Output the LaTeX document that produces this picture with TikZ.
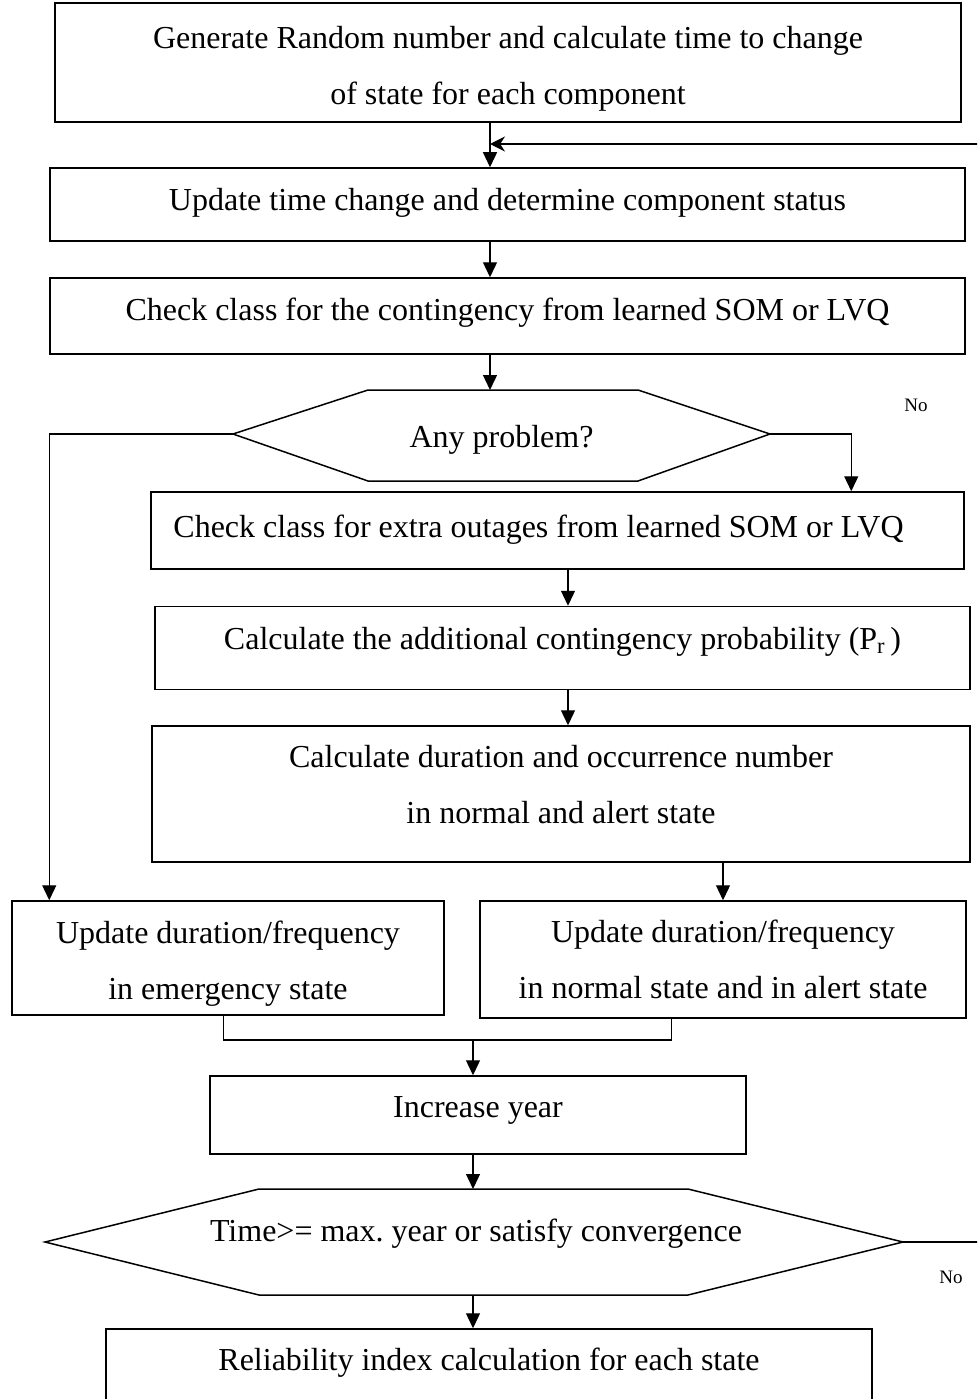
\documentclass[tikz,border=0pt]{standalone}
\usepackage{fontspec}
\setmainfont{Liberation Serif}
\usetikzlibrary{arrows.meta,calc}
\frenchspacing
\begin{document}
\begin{tikzpicture}[x=1pt,y=-1pt,
  box/.style={draw, line width=1.5pt, inner sep=0pt, align=center,
    font=\fontsize{32}{56}\selectfont},
  up/.style={text height=22pt, text depth={1pt+2*#1}},
  hextext/.style={inner sep=0pt, font=\fontsize{32}{56}\selectfont},
  hexline/.style={line width=1.5pt},
  arr/.style={line width=1.3pt, -{Triangle[length=15pt,width=14pt]}},
  fbarr/.style={line width=1.3pt, -{Stealth[length=15pt,width=15pt]}},
  ln/.style={line width=1.3pt},
  nolab/.style={inner sep=0pt, font=\fontsize{19}{22}\selectfont}]
\clip (0,0) rectangle (977,1399);
\useasboundingbox (0,0) rectangle (977,1399);

% column coordinates
\coordinate (cA) at (490,0);
\coordinate (cB) at (568,0);
\coordinate (cC) at (473,0);

% boxes
\node[box, minimum width=906pt, minimum height=119pt] (b1) at (508,62.5)
  {\begin{tabular}{@{}c@{}}Generate Random number and calculate time to change\\ of state for each component\\[-6pt]\end{tabular}};
\node[box, up=4.5pt, minimum width=915pt, minimum height=73pt] (b2) at (507.5,204.5)
  {Update time change and determine component status};
\node[box, up=6pt, minimum width=915pt, minimum height=76pt] (b3) at (507.5,316)
  {Check class for the contingency from learned SOM or LVQ};

% hexagon 1
\coordinate (h1w) at (233,434);
\coordinate (h1e) at (770,434);
\draw[hexline] (h1w) -- (368,390) -- (638,390) -- (h1e) -- (638,481) -- (368,481) -- cycle;
\node[hextext] (h1) at (501.5,440) {Any problem?};
\coordinate (h1n) at (490,390);

\node[box, up=4pt, minimum width=813pt, minimum height=77pt] (b4) at (557.5,530.5)
  {Check class for extra outages from learned SOM or LVQ\hspace*{38pt}};
\node[box, up=9pt, minimum width=815pt, minimum height=83pt] (b5) at (562.5,648)
  {Calculate the additional contingency probability (P\textsubscript{r}\,)};
\node[box, minimum width=818pt, minimum height=136pt] (b6) at (561,794)
  {\begin{tabular}{@{}c@{}}Calculate duration and occurrence number\\ in normal and alert state\\[20pt]\end{tabular}};
\node[box, minimum width=432pt, minimum height=114pt] (b7) at (228,958)
  {\begin{tabular}{@{}c@{}}Update duration/frequency\\ in emergency state\\[-4pt]\end{tabular}};
\node[box, minimum width=486pt, minimum height=117pt] (b8) at (723,959.5)
  {\begin{tabular}{@{}c@{}}Update duration/frequency\\ in normal state and in alert state\end{tabular}};
\node[box, up=8pt, minimum width=536pt, minimum height=78pt] (b9) at (478,1115)
  {Increase year};

% hexagon 2
\coordinate (h2w) at (45,1242);
\coordinate (h2e) at (903,1242);
\draw[hexline] (h2w) -- (259,1189) -- (688,1189) -- (h2e) -- (688,1295) -- (259,1295) -- cycle;
\node[hextext] (h2) at (476,1234) {Time>= max. year or satisfy convergence};
\coordinate (h2n) at (473,1189);
\coordinate (h2s) at (473,1295);

\node[box, up=19.5pt, minimum width=766pt, minimum height=101pt] (b10) at (489,1379.5)
  {Reliability index calculation for each state};

% labels
\node[nolab] (no1) at (916,405) {No};
\node[nolab] (no2) at (951,1277) {No};

% connectors
\draw[arr] (b1.south -| cA) -- (b2.north -| cA);
\draw[arr] (b2.south -| cA) -- (b3.north -| cA);
\draw[arr] (b3.south -| cA) -- (h1n);
\draw[arr] (h1w) -| ($(b7.north west)+(38,0)$);
\draw[arr] (h1e) -| ($(b4.north west)+(701,0)$);
\draw[arr] (b4.south -| cB) -- (b5.north -| cB);
\draw[arr] (b5.south -| cB) -- (b6.north -| cB);
\draw[arr] (b6.south -| b8.north) -- (b8.north);
\coordinate (j7) at ($(b7.south west)+(212,0)$);
\coordinate (j8) at ($(b8.south west)+(192,0)$);
\coordinate (jm) at (473,1040);
\draw[ln] (j7) |- (jm) -| (j8);
\draw[arr] (jm) -- (b9.north -| cC);
\draw[arr] (b9.south -| cC) -- (h2n);
\draw[arr] (h2s) -- (b10.north -| cC);

% feedback loop (runs off the right edge)
\coordinate (e2) at (980,1242);
\coordinate (e1) at (980,144);
\draw[ln] (h2e) -- (e2);
\draw[fbarr] (e1) -- (cA |- e1);
\end{tikzpicture}
\end{document}
